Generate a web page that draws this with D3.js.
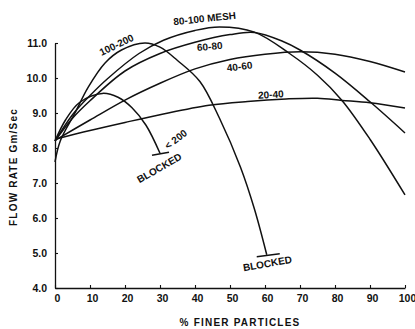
<!DOCTYPE html>
<html>
<head>
<meta charset="utf-8">
<script src="https://cdn.jsdelivr.net/npm/d3@7"></script>
<style>
  body { margin: 0; background: #fff; }
  text { font-family: "Liberation Sans", Arial, sans-serif; fill: #111; }
</style>
</head>
<body>
<svg id="chart"></svg>
<script>
// % finer particles (x) and flow rate in Gm/Sec (y)
var mesh20_40_x = [0, 10, 20, 30, 44, 55, 66, 75, 82, 90, 100];
var mesh20_40_y = [8.25, 8.5, 8.73, 8.95, 9.22, 9.33, 9.4, 9.42, 9.36, 9.29, 9.14];

var mesh40_60_x = [0, 10, 20, 30, 40, 50, 60, 70, 80, 90, 100];
var mesh40_60_y = [8.22, 8.8, 9.37, 9.85, 10.26, 10.53, 10.68, 10.75, 10.68, 10.47, 10.17];

var mesh60_80_x = [0, 5, 10, 20, 30, 40, 50, 57, 65, 70, 80, 90, 100];
var mesh60_80_y = [8.2, 8.85, 9.35, 10.2, 10.7, 11.02, 11.24, 11.3, 11.05, 10.8, 10.14, 9.32, 8.43];

var mesh80_100_x = [0, 5, 10, 15, 24, 31, 40, 47, 57, 67, 75, 82, 90, 100];
var mesh80_100_y = [8.2, 8.95, 9.5, 9.98, 10.7, 11.08, 11.36, 11.46, 11.31, 10.7, 10.08, 9.36, 8.25, 6.66];

var mesh100_200_x = [0, 1.5, 5.7, 9.5, 14.3, 19, 25.7, 30, 35, 41.4, 47, 53, 57, 60.5];
var mesh100_200_y = [7.6, 8.2, 9.0, 9.74, 10.43, 10.8, 11.0, 10.88, 10.5, 9.9, 8.85, 7.45, 6.25, 4.95];

var meshLt200_x = [0, 3, 7, 13.5, 18, 22, 26, 30];
var meshLt200_y = [8.2, 8.8, 9.3, 9.56, 9.45, 9.15, 8.65, 7.85];

var xTicks = [0, 10, 20, 30, 40, 50, 60, 70, 80, 90, 100];
var yTicks = [4, 5, 6, 7, 8, 9, 10, 11];

var width = 415, height = 329;

var svg = d3.select('#chart')
    .attr('width', width)
    .attr('height', height);

var x = d3.scaleLinear().domain([0, 100]).range([55, 405]);
var y = d3.scaleLinear().domain([4, 11]).range([288, 43]);

function zip(xs, ys) {
  return xs.map(function(v, i) { return [v, ys[i]]; });
}

var series = [
  zip(mesh20_40_x, mesh20_40_y),
  zip(mesh40_60_x, mesh40_60_y),
  zip(mesh60_80_x, mesh60_80_y),
  zip(mesh80_100_x, mesh80_100_y),
  zip(mesh100_200_x, mesh100_200_y),
  zip(meshLt200_x, meshLt200_y)
];

// axes
var yAxis = d3.axisLeft(y)
    .tickValues(yTicks)
    .tickSize(-3)
    .tickSizeOuter(0)
    .tickPadding(8)
    .tickFormat(d3.format('.1f'));

var xAxis = d3.axisBottom(x)
    .tickValues(xTicks)
    .tickSize(-3)
    .tickSizeOuter(0)
    .tickPadding(7)
    .tickFormat(d3.format('d'));

var gy = svg.append('g')
    .attr('transform', 'translate(' + x(0) + ',0)')
    .call(yAxis);

var gx = svg.append('g')
    .attr('transform', 'translate(0,' + y(4) + ')')
    .call(xAxis);

[gx, gy].forEach(function(g) {
  g.select('.domain').attr('stroke', '#111').attr('stroke-width', 1.3);
  g.selectAll('.tick line').attr('stroke', '#111').attr('stroke-width', 1.1);
  g.selectAll('.tick text')
    .style('font-size', '10.5px')
    .style('font-weight', 'bold')
    .attr('fill', '#111');
});
gx.selectAll('.tick text').attr('dx', 2);

// curves
var line = d3.line()
    .x(function(d) { return x(d[0]); })
    .y(function(d) { return y(d[1]); })
    .curve(d3.curveCatmullRom.alpha(0.5));

svg.append('g')
  .selectAll('path')
  .data(series)
  .enter()
  .append('path')
    .attr('d', line)
    .attr('fill', 'none')
    .attr('stroke', '#111')
    .attr('stroke-width', 1.5);

// "blocked" end bars
var blocked = [series[5][series[5].length - 1], series[4][series[4].length - 1]];
svg.append('g')
  .selectAll('line')
  .data(blocked)
  .enter()
  .append('line')
    .attr('x1', function(d, i) { return x(d[0]) - (i ? 10 : 8); })
    .attr('x2', function(d, i) { return x(d[0]) + (i ? 13 : 9); })
    .attr('y1', function(d) { return y(d[1]) + 2; })
    .attr('y2', function(d) { return y(d[1]) - 1; })
    .attr('stroke', '#111')
    .attr('stroke-width', 1.3);

// curve labels
var labels = [
  {t: '80-100 MESH', x: 205, y: 22, r: -6},
  {t: '60-80', x: 210, y: 50, r: -5},
  {t: '40-60', x: 240, y: 70, r: -7},
  {t: '20-40', x: 271, y: 98, r: -3},
  {t: '100-200', x: 118, y: 48, r: -26},
  {t: '< 200', x: 178, y: 142, r: -38},
  {t: 'BLOCKED', x: 161, y: 171, r: -30},
  {t: 'BLOCKED', x: 268, y: 267, r: -10}
];

svg.append('g')
  .selectAll('text')
  .data(labels)
  .enter()
  .append('text')
    .attr('transform', function(d) { return 'translate(' + d.x + ',' + d.y + ') rotate(' + d.r + ')'; })
    .attr('text-anchor', 'middle')
    .style('font-size', '10px')
    .style('font-weight', 'bold')
    .text(function(d) { return d.t; });

// axis titles
svg.append('text')
    .attr('x', 240)
    .attr('y', 326)
    .attr('text-anchor', 'middle')
    .style('font-size', '10px')
    .style('font-weight', 'bold')
    .style('letter-spacing', '1.2px')
    .text('% FINER PARTICLES');

svg.append('text')
    .attr('transform', 'translate(17,167) rotate(-90)')
    .attr('text-anchor', 'middle')
    .style('font-size', '10px')
    .style('font-weight', 'bold')
    .style('letter-spacing', '1.2px')
    .text('FLOW RATE  Gm/Sec');
</script>
</body>
</html>
